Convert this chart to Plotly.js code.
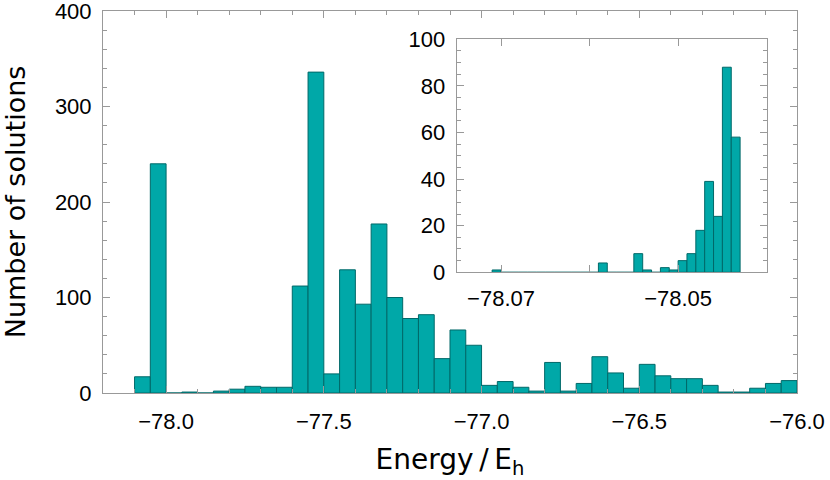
<!DOCTYPE html>
<html>
<head>
<meta charset="utf-8">
<script src="https://cdn.plot.ly/plotly-3.0.1.min.js"></script>
<style>
  html, body { margin: 0; padding: 0; background: #fff; }
  #chart { width: 830px; height: 480px; }
</style>
</head>
<body>
<div id="chart"></div>
<script>
// main histogram: bins of 0.05 starting at -78.10
const mainStart = -78.10;
const mainWidth = 0.05;
const mainCounts = [17, 240, 0, 1, 0, 2, 4, 7, 6, 6,
                    112, 336, 20, 129, 93, 177, 100, 78, 82, 36,
                    66, 50, 8, 12, 6, 2, 32, 2, 10, 38,
                    21, 5, 30, 18, 15, 15, 8, 1, 1, 5,
                    10, 13];

// inset: bins of 0.001 starting at -78.071
const insetStart = -78.071;
const insetWidth = 0.001;
const insetCounts = [1, 0, 0, 0, 0, 0, 0, 0, 0, 0,
                     0, 0, 4, 0, 0, 0, 8, 1, 0, 2,
                     1, 5, 8, 18, 39, 24, 88, 58];

const mainTicks = [-78.0, -77.5, -77.0, -76.5, -76.0];
const insetTicks = [-78.07, -78.05];

function centers(start, w, n) {
    return Array.from({length: n}, (_, i) => start + (i + 0.5) * w);
}

const fill = 'rgb(0,168,168)';
const edge = 'rgb(0,105,105)';
const frame = '#999999';
const tickFont = {family: 'Liberation Sans, Arial, sans-serif', size: 22, color: '#000'};
const titleFont = {family: 'DejaVu Sans, sans-serif', size: 27, color: '#000'};

const trace1 = {
    x: centers(mainStart, mainWidth, mainCounts.length),
    y: mainCounts,
    width: mainWidth,
    type: 'bar',
    marker: {color: fill, line: {color: edge, width: 1}},
    xaxis: 'x', yaxis: 'y',
    hoverinfo: 'skip'
};

const trace2 = {
    x: centers(insetStart, insetWidth, insetCounts.length),
    y: insetCounts,
    width: insetWidth,
    type: 'bar',
    marker: {color: fill, line: {color: edge, width: 1}},
    xaxis: 'x2', yaxis: 'y2',
    hoverinfo: 'skip'
};

function axis(extra) {
    return Object.assign({
        showline: true, linecolor: frame, linewidth: 1, mirror: 'ticks',
        ticks: 'inside', ticklen: 7, tickcolor: frame, tickwidth: 1,
        showgrid: false, zeroline: false,
        ticklabeloverflow: 'allow',
        tickfont: tickFont
    }, extra);
}

const layout = {
    width: 830, height: 480,
    showlegend: false,
    bargap: 0,
    paper_bgcolor: '#fff',
    plot_bgcolor: 'rgba(0,0,0,0)',
    margin: {l: 103, r: 33, t: 11, b: 87},
    xaxis: axis({
        range: [-78.2, -76.0],
        tickvals: mainTicks, tickformat: '.1f',
        ticklabelstandoff: 9,
        minor: {dtick: 0.1, tick0: -78.0, ticks: 'inside', ticklen: 4, tickcolor: frame},
        title: {text: 'Energy\u2009/\u2009E<sub>h</sub>', font: Object.assign({}, titleFont, {size: 28}), standoff: 19}
    }),
    yaxis: axis({
        range: [0, 400], dtick: 100,
        ticklabelstandoff: 6,
        minor: {dtick: 20, ticks: 'inside', ticklen: 4, tickcolor: frame},
        title: {text: 'Number of solutions', font: titleFont, standoff: 24}
    }),
    xaxis2: axis({
        domain: [0.5097, 0.9563], anchor: 'y2',
        range: [-78.075, -78.04],
        tickvals: insetTicks, tickformat: '.2f',
        ticklabelstandoff: 6,
        minor: {dtick: 0.01, tick0: -78.07, ticks: 'inside', ticklen: 7, tickcolor: frame}
    }),
    yaxis2: axis({
        domain: [0.316, 0.926], anchor: 'x2',
        range: [0, 100], dtick: 20,
        ticklabelstandoff: 6,
        minor: {dtick: 5, ticks: 'inside', ticklen: 4, tickcolor: frame}
    })
};

Plotly.newPlot('chart', [trace1, trace2], layout, {staticPlot: true});
</script>
</body>
</html>
